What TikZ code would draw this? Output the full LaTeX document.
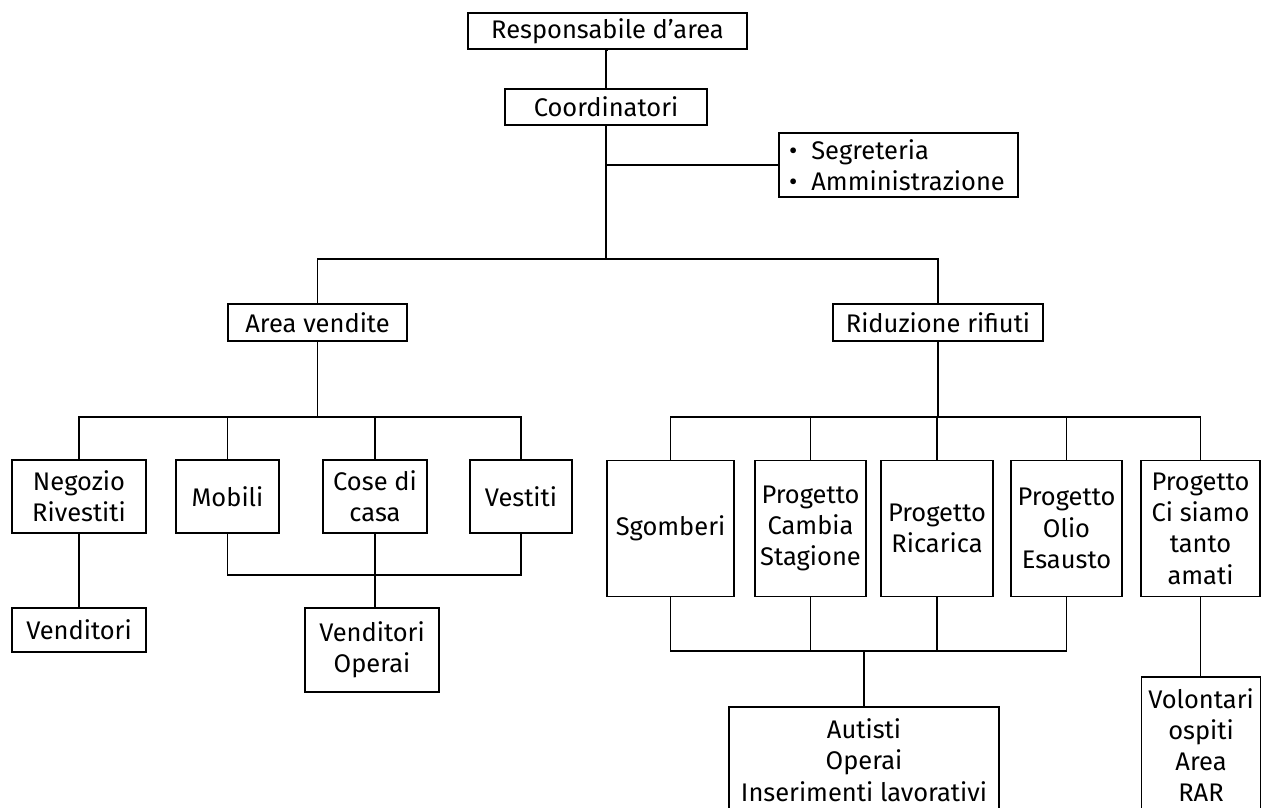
\documentclass[tikz,border=0pt]{standalone}
\usepackage{fontspec}
\setmainfont{Fira Sans}
\begin{document}
\begin{tikzpicture}[x=0.02cm,y=-0.02cm,
  box/.style={draw, line width=0.9pt, inner sep=0pt, align=center,
    font=\fontsize{14.5}{17.8}\selectfont},
  link/.style={line width=0.9pt}]
\clip (0,0) rectangle (1266,807);
% top
\node[box, minimum width=5.58cm, minimum height=0.72cm] (resp) at (607.5,31) {Responsabile d’area};
\node[box, minimum width=4.04cm, minimum height=0.72cm] (coord) at (606,107) {Coordinatori};
\node[box, draw, text width=4.38cm, inner xsep=0.2cm, minimum height=1.28cm, align=left] (seg) at (898.5,165)
  {•\hspace{8pt}Segreteria\\•\hspace{8pt}Amministrazione};
% second level
\node[box, minimum width=3.58cm, minimum height=0.74cm] (area) at (317.5,322.5) {Area vendite};
\node[box, minimum width=4.2cm, minimum height=0.74cm] (rid) at (938,322.5) {Riduzione rifiuti};
% area vendite children
\node[box, minimum width=2.68cm, minimum height=1.46cm] (neg) at (79,496.5) {Negozio\\Rivestiti};
\node[box, minimum width=2.06cm, minimum height=1.46cm] (mob) at (227.5,496.5) {Mobili};
\node[box, minimum width=2.08cm, minimum height=1.46cm] (cose) at (375,496.5) {Cose di\\casa};
\node[box, minimum width=2.04cm, minimum height=1.46cm] (vest) at (521,496.5) {Vestiti};
\node[box, minimum width=2.68cm, minimum height=0.88cm] (vend) at (79,630) {Venditori};
\node[box, minimum width=2.68cm, minimum height=1.68cm] (vo) at (372,650) {Venditori\\Operai};
% riduzione children
\node[box, minimum width=2.54cm, minimum height=2.72cm] (sgo) at (670.5,528.5) {Sgomberi};
\node[box, minimum width=2.22cm, minimum height=2.72cm] (cam) at (810.5,528.5) {Progetto\\Cambia\\Stagione};
\node[box, minimum width=2.24cm, minimum height=2.72cm] (ric) at (937,528.5) {Progetto\\Ricarica};
\node[box, minimum width=2.22cm, minimum height=2.72cm] (olio) at (1066.5,528.5) {Progetto\\Olio\\Esausto};
\node[box, minimum width=2.38cm, minimum height=2.72cm] (ci) at (1200.5,528.5) {Progetto\\Ci siamo\\tanto\\amati};
\node[box, minimum width=5.4cm, minimum height=2.12cm] (aut) at (864,760) {Autisti\\Operai\\Inserimenti lavorativi};
\node[box, minimum width=2.38cm, minimum height=2.72cm] (vol) at (1201,745) {Volontari\\ospiti\\Area\\RAR};
% junction levels
\coordinate (t) at (0,259);
\coordinate (aj) at (0,417);
\coordinate (bj) at (0,575);
\coordinate (rb) at (0,651);
% connectors
\draw[link] (resp.south) -- (coord.south |- resp.south) -- (coord.north);
\draw[link] (coord.south) -- (coord.south |- t);
\draw[link] (coord.south |- seg.west) -- (seg.west);
\draw[link] (area.north) -- (area.north |- t) -- (rid.north |- t) -- (rid.north);
\draw[link] (area.south) -- (area.south |- aj);
\draw[link] (neg.north) -- (neg.north |- aj) -- (vest.north |- aj) -- (vest.north);
\draw[link] (mob.north) -- (mob.north |- aj);
\draw[link] (cose.north) -- (cose.north |- aj);
\draw[link] (neg.south) -- (vend.north -| neg.south);
\draw[link] (mob.south) -- (mob.south |- bj) -- (vest.south |- bj) -- (vest.south);
\draw[link] (cose.south) -- (cose.south |- vo.north);
\draw[link] (rid.south) -- (rid.south |- aj);
\draw[link] (sgo.north) -- (sgo.north |- aj) -- (ci.north |- aj) -- (ci.north);
\draw[link] (cam.north) -- (cam.north |- aj);
\draw[link] (ric.north) -- (ric.north |- aj);
\draw[link] (olio.north) -- (olio.north |- aj);
\draw[link] (sgo.south) -- (sgo.south |- rb) -- (olio.south |- rb) -- (olio.south);
\draw[link] (cam.south) -- (cam.south |- rb);
\draw[link] (ric.south) -- (ric.south |- rb);
\draw[link] (aut.north |- rb) -- (aut.north);
\draw[link] (ci.south) -- (ci.south |- vol.north);
\end{tikzpicture}
\end{document}
